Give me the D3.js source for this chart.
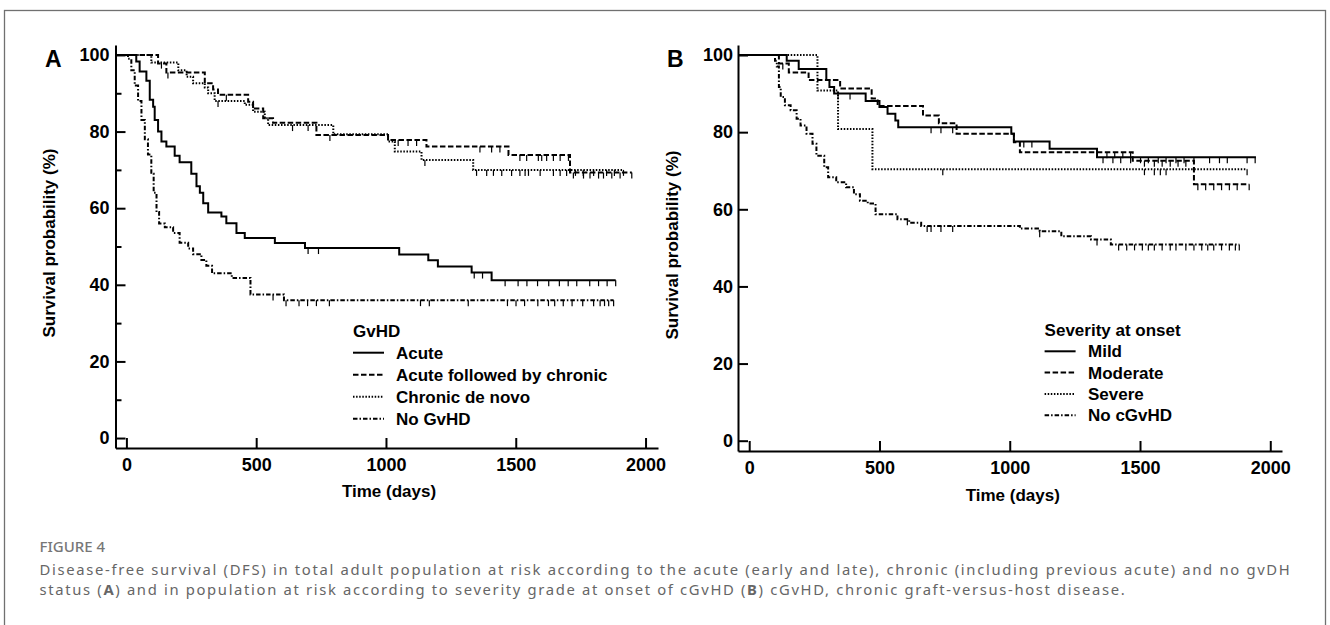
<!DOCTYPE html>
<html><head><meta charset="utf-8">
<script src="https://cdn.jsdelivr.net/npm/d3@7"></script>
<style>
body{margin:0;background:#fff;}
svg{display:block;}
.ax text{font-family:"Liberation Sans",Arial,sans-serif;font-weight:bold;font-size:18px;fill:#000;}
.ax path.domain,.ax line{stroke:#000;stroke-width:2;}
.lbl{font-family:"Liberation Sans",Arial,sans-serif;font-weight:bold;font-size:17px;fill:#000;}
.cap{font-family:"Noto Sans","Open Sans",sans-serif;fill:#666;}
</style></head><body>
<svg id="c" width="1330" height="625"></svg>
<script>
// ---------- Tick values ----------
const yTicks = [0, 20, 40, 60, 80, 100];
const yMinorTicks = [10, 30, 50, 70, 90];
const xTicks = [0, 500, 1000, 1500, 2000];

// ---------- Panel A : GvHD ----------
const legendTitleA = "GvHD";
const namesA = ["Acute", "Acute followed by chronic", "Chronic de novo", "No GvHD"];
const acuteSteps = [[0,100],[38,98.3],[51,95.7],[77,93.3],[90,88.3],[103,86.5],[109,83],[122,80],[135,77.4],[154,76.1],[186,73.7],[205,72],[250,69],[270,65.7],[283,64],[296,61.3],[315,58.9],[366,57.8],[385,56.1],[424,53.5],[456,52.2],[572,50.9],[688,49.6],[1051,47.9],[1163,46.4],[1200,44.8],[1330,43.2],[1407,41.2]];
const acuteEnd = 1885;
const acuteCens = [700,740,1340,1372,1459,1509,1543,1584,1627,1668,1702,1735,1785,1819,1852,1885];
const afcSteps = [[0,100],[122,97.8],[154,95.4],[302,92.6],[334,91],[353,89.6],[469,87.8],[488,86],[527,83.5],[565,82.3],[732,79.1],[1008,77.8],[1156,76.1],[1472,73.9],[1709,69.3]];
const afcEnd = 1947;
const afcCens = [160,385,784,1047,1085,1118,1362,1407,1439,1516,1542,1587,1600,1619,1645,1671,1703,1722,1761,1786,1819,1838,1870,1902,1947];
const cdnSteps = [[0,100],[96,98],[200,96],[232,94.3],[257,92.6],[302,91.5],[315,90],[340,88],[456,87],[488,85.2],[533,83.5],[546,81.7],[797,79.3],[1008,77.4],[1034,74.8],[1137,72.6],[1336,70]];
const cdnEnd = 1915;
const cdnCens = [135,353,640,700,1150,1349,1388,1414,1446,1484,1516,1536,1549,1594,1645,1671,1696,1730,1760,1800,1850,1880,1915];
const nogvSteps = [[0,100],[6,99],[19,96],[32,92],[45,88],[58,83],[71,78],[83,74],[96,69],[105,64],[116,59],[126,56],[148,55],[180,53.5],[205,51],[238,49.5],[257,48],[289,46.5],[308,45],[330,43],[406,41.8],[478,37.5],[607,36]];
const nogvEnd = 1877;
const nogvCens = [565,615,665,698,732,782,1133,1167,1317,1468,1501,1534,1585,1626,1650,1683,1717,1758,1800,1825,1842,1858,1877];

// ---------- Panel B : Severity at onset ----------
const legendTitleB = "Severity at onset";
const namesB = ["Mild", "Moderate", "Severe", "No cGvHD"];
const mildSteps = [[0,100],[144,98.5],[190,96.4],[296,93.5],[308,91.7],[326,90],[447,88.1],[500,86.5],[531,84.8],[561,83],[572,81.3],[1006,79.6],[1016,77.6],[1153,75.7],[1335,73.5]];
const mildEnd = 1945;
const mildCens = [341,387,698,736,781,1054,1085,1358,1396,1426,1464,1502,1532,1570,1600,1638,1669,1707,1767,1805,1835,1911,1942];
const modSteps = [[0,100],[114,97.8],[152,95.5],[228,93.5],[349,91.3],[470,88.7],[493,86.8],[667,84.3],[728,82.3],[796,79.6],[1016,77.4],[1039,74.8],[1472,72.6],[1707,66.5]];
const modEnd = 1919;
const modCens = [129,1373,1403,1434,1464,1517,1555,1585,1616,1646,1676,1722,1752,1783,1813,1843,1873,1919];
const sevSteps = [[0,100],[262,90.8],[341,80.8],[473,70.4]];
const sevEnd = 1911;
const sevCens = [743,1517,1555,1578,1600,1911];
const nocgSteps = [[0,100],[99,98.5],[106,97],[114,91.7],[121,89.1],[137,87],[159,85.7],[182,83.5],[197,81.7],[220,79.6],[243,77],[258,73.9],[288,70.9],[303,68.3],[334,67],[372,65.7],[402,63.9],[425,62.2],[455,61.5],[485,58.7],[569,57.4],[614,56.5],[660,55.7],[1039,55],[1115,54.3],[1198,53],[1312,52.2],[1388,50.9]];
const nocgEnd = 1881;
const nocgCens = [607,683,698,736,781,1115,1335,1418,1449,1479,1509,1532,1555,1585,1616,1638,1676,1707,1737,1760,1783,1813,1843,1866,1881];

// ---------- Texts ----------
const yTitle = "Survival probability (%)";
const xTitle = "Time (days)";
const figLabel = "FIGURE 4";
const capLine1 = "Disease-free survival (DFS) in total adult population at risk according to the acute (early and late), chronic (including previous acute) and no gvDH";
const capLine2 = [["status (",false],["A",true],[") and in population at risk according to severity grade at onset of cGvHD (",false],["B",true],[") cGvHD, chronic graft-versus-host disease.",false]];

// ---------- Styles ----------
const dashes = [null, "5.5,2.5", "1.5,1.6", "4.5,2,1.5,2"];

const svg = d3.select("#c");
svg.append("rect").attr("x",4.5).attr("y",10.5).attr("width",1321).attr("height",640)
  .attr("fill","none").attr("stroke","#707070").attr("stroke-width",1.3);

function survAt(steps, t){
  let s = steps[0][1];
  for (const p of steps){ if (p[0] <= t) s = p[1]; }
  return s;
}

function panel(cfg){
  const x = d3.scaleLinear().domain(cfg.xDom).range(cfg.xRange);
  const y = d3.scaleLinear().domain(cfg.yDom).range(cfg.yRange);
  const g = svg.append("g");
  g.append("g").attr("class","ax").attr("transform",`translate(0,${cfg.yRange[0]})`)
    .call(d3.axisBottom(x).tickValues(xTicks).tickFormat(d3.format("d")).tickSizeInner(-10).tickSizeOuter(0).tickPadding(10));
  g.append("g").attr("class","ax").attr("transform",`translate(${cfg.xRange[0]},0)`)
    .call(d3.axisLeft(y).tickValues(yTicks).tickFormat(d3.format("d")).tickSizeInner(-10).tickSizeOuter(0).tickPadding(cfg.yPad));
  if (cfg.minor){
    const m = g.append("g").attr("class","ax").attr("transform",`translate(${cfg.xRange[0]},0)`)
      .call(d3.axisLeft(y).tickValues(yMinorTicks).tickSizeInner(-6).tickSizeOuter(0).tickFormat(""));
    m.select(".domain").remove();
  }
  const line = d3.line().x(d=>x(d[0])).y(d=>y(d[1])).curve(d3.curveStepAfter);
  cfg.series.forEach((s,i)=>{
    const pts = [[cfg.xDom[0],100]].concat(s.steps).concat([[s.end, s.steps[s.steps.length-1][1]]]);
    g.append("path").attr("d", line(pts)).attr("fill","none").attr("stroke","#000")
      .attr("stroke-width",2).attr("stroke-dasharray", dashes[i]);
    g.append("g").selectAll("line").data(s.cens).join("line")
      .attr("x1",d=>x(d)).attr("x2",d=>x(d))
      .attr("y1",d=>y(survAt(s.steps,d))).attr("y2",d=>y(survAt(s.steps,d))+6)
      .attr("stroke","#000").attr("stroke-width",1.2);
  });
  const lg = g.append("g");
  lg.append("text").attr("class","lbl").attr("x",cfg.leg.x).attr("y",cfg.leg.y0).attr("dy","0.35em").text(cfg.legTitle);
  cfg.series.forEach((s,i)=>{
    const yy = cfg.leg.y0 + cfg.leg.dy*(i+1);
    lg.append("line").attr("x1",cfg.leg.x).attr("x2",cfg.leg.x+31).attr("y1",yy).attr("y2",yy)
      .attr("stroke","#000").attr("stroke-width",2).attr("stroke-dasharray",dashes[i]);
    lg.append("text").attr("class","lbl").attr("x",cfg.leg.tx).attr("y",yy).attr("dy","0.35em").text(s.name);
  });
  g.append("text").attr("class","lbl").attr("text-anchor","middle")
    .attr("transform",`translate(${cfg.yTitleX},${cfg.yTitleY}) rotate(-90)`).attr("dy","0.35em").text(yTitle);
  g.append("text").attr("class","lbl").attr("text-anchor","middle")
    .attr("x", x(1000)+3).attr("y", cfg.xTitleY).attr("dy","0.35em").text(xTitle);
  g.append("text").attr("class","lbl").style("font-size","23px")
    .attr("x", cfg.letterX).attr("y", 67).text(cfg.letter);
}

panel({
  letter:"A", letterX:45,
  xDom:[-42,2048], xRange:[115.5,658],
  yDom:[-2.6,102.6], yRange:[448,45], yPad:6, minor:true,
  yTitleX:49.5, yTitleY:243, xTitleY:491,
  legTitle:legendTitleA, leg:{x:353, tx:396, y0:330.7, dy:22},
  series:[
    {name:namesA[0], steps:acuteSteps, end:acuteEnd, cens:acuteCens},
    {name:namesA[1], steps:afcSteps, end:afcEnd, cens:afcCens},
    {name:namesA[2], steps:cdnSteps, end:cdnEnd, cens:cdnCens},
    {name:namesA[3], steps:nogvSteps, end:nogvEnd, cens:nogvCens}
  ]
});
panel({
  letter:"B", letterX:667,
  xDom:[-43,2045], xRange:[738,1282],
  yDom:[-2.67,102.6], yRange:[451,45], yPad:5, minor:false,
  yTitleX:672, yTitleY:245, xTitleY:495,
  legTitle:legendTitleB, leg:{x:1044.6, tx:1088, y0:330, dy:21.3},
  series:[
    {name:namesB[0], steps:mildSteps, end:mildEnd, cens:mildCens},
    {name:namesB[1], steps:modSteps, end:modEnd, cens:modCens},
    {name:namesB[2], steps:sevSteps, end:sevEnd, cens:sevCens},
    {name:namesB[3], steps:nocgSteps, end:nocgEnd, cens:nocgCens}
  ]
});

// caption
svg.append("text").attr("class","cap").attr("x",39.5).attr("y",552).style("font-size","15px")
  .style("fill","#777").style("font-weight","500").text(figLabel);
function fitText(t, target, nChars){
  const w = t.node().getComputedTextLength();
  t.style("letter-spacing", ((target - w)/nChars).toFixed(3)+"px");
}
const c1 = svg.append("text").attr("class","cap").attr("x",39.5).attr("y",575).style("font-size","14.8px").text(capLine1);
fitText(c1, 1252, capLine1.length);
const c2 = svg.append("text").attr("class","cap").attr("x",39.5).attr("y",595).style("font-size","14.8px");
capLine2.forEach(p=>{ c2.append("tspan").style("font-weight", p[1]?"700":"400").text(p[0]); });
fitText(c2, 1087, capLine2.map(p=>p[0]).join("").length);
</script>
</body></html>
